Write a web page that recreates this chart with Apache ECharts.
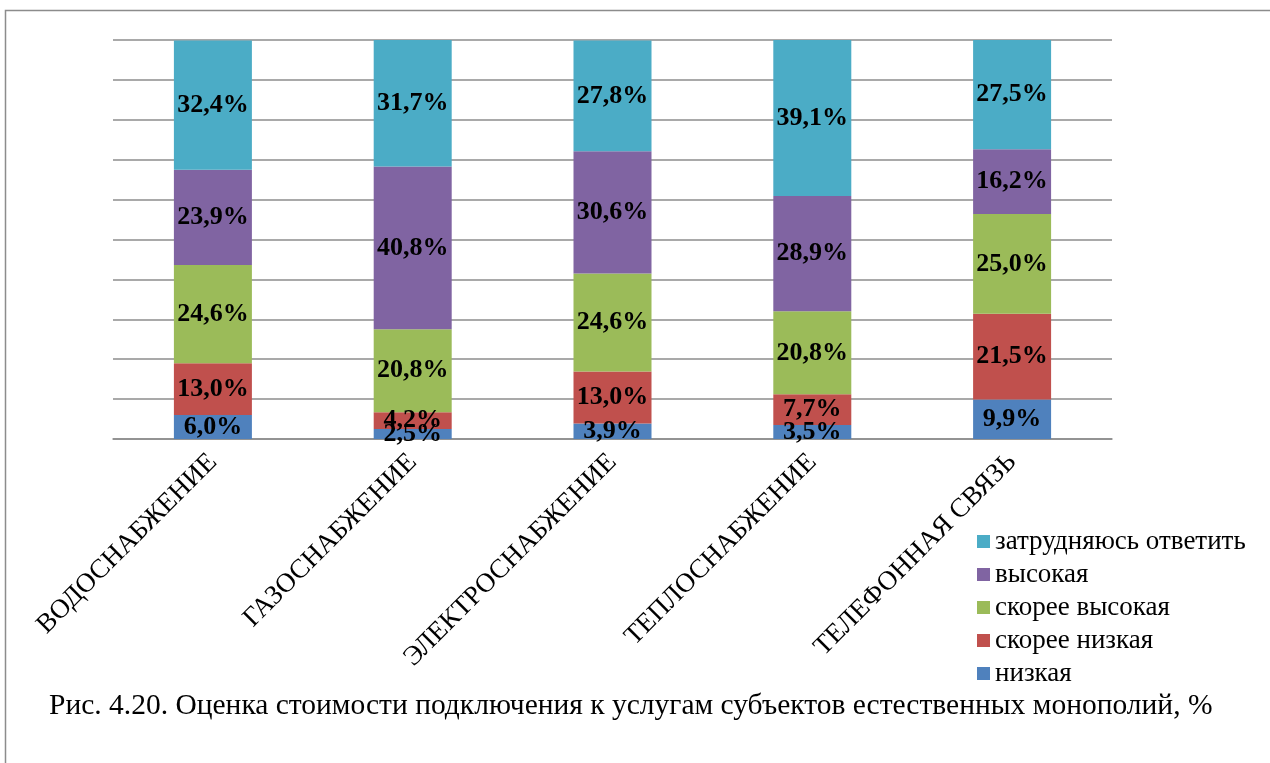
<!DOCTYPE html>
<html>
<head>
<meta charset="utf-8">
<script src="https://cdn.jsdelivr.net/npm/echarts@6/dist/echarts.min.js"></script>
<style>
html, body { margin: 0; padding: 0; background: #fff; }
#container { width: 1270px; height: 763px; }
</style>
</head>
<body>
<div id="container"></div>
<script>
var categories = ['ВОДОСНАБЖЕНИЕ', 'ГАЗОСНАБЖЕНИЕ', 'ЭЛЕКТРОСНАБЖЕНИЕ', 'ТЕПЛОСНАБЖЕНИЕ', 'ТЕЛЕФОННАЯ СВЯЗЬ'];
var nizkaya = [6.0, 2.5, 3.9, 3.5, 9.9];
var skoreeNizkaya = [13.0, 4.2, 13.0, 7.7, 21.5];
var skoreeVysokaya = [24.6, 20.8, 24.6, 20.8, 25.0];
var vysokaya = [23.9, 40.8, 30.6, 28.9, 16.2];
var zatrudnyayus = [32.4, 31.7, 27.8, 39.1, 27.5];

var seriesNames = ['низкая', 'скорее низкая', 'скорее высокая', 'высокая', 'затрудняюсь ответить'];
var seriesData = [nizkaya, skoreeNizkaya, skoreeVysokaya, vysokaya, zatrudnyayus];
var colors = ['#4F81BD', '#C0504D', '#9BBB59', '#8064A2', '#4BACC6'];

var dom = document.getElementById('container');
var myChart = echarts.init(dom);
var serif = '"Liberation Serif", "DejaVu Serif", serif';

var series = [];
for (var i = 0; i < seriesNames.length; i++) {
    series.push({
        name: seriesNames[i],
        type: 'bar',
        stack: 'total',
        barWidth: 78,
        itemStyle: { color: colors[i] },
        label: {
            show: true,
            position: 'inside',
            fontFamily: serif,
            fontSize: 26,
            fontWeight: 'bold',
            color: '#000',
            formatter: function (p) {
                return p.value.toFixed(1).replace('.', ',') + '%';
            }
        },
        data: seriesData[i]
    });
}

var option = {
    animation: false,
    color: colors,
    graphic: [{
        type: 'rect',
        shape: { x: 5.5, y: 10.5, width: 1300, height: 800 },
        style: { fill: 'none', stroke: '#8c8c8c', lineWidth: 1.5 },
        silent: true
    }],
    title: {
        text: 'Рис. 4.20. Оценка стоимости подключения к услугам субъектов естественных монополий, %',
        left: 44,
        top: 686,
        textStyle: { fontFamily: serif, fontSize: 29.5, fontWeight: 'normal', color: '#000' }
    },
    legend: {
        orient: 'vertical',
        left: 972,
        top: 523,
        itemWidth: 13,
        itemHeight: 13,
        itemGap: 6,
        icon: 'rect',
        data: ['затрудняюсь ответить', 'высокая', 'скорее высокая', 'скорее низкая', 'низкая'],
        textStyle: { fontFamily: serif, fontSize: 27, color: '#000' }
    },
    grid: { left: 113, right: 158, top: 40, bottom: 324 },
    xAxis: {
        type: 'category',
        data: categories,
        axisLine: { lineStyle: { color: '#8c8c8c', width: 1.5 } },
        axisTick: { length: 8, lineStyle: { color: '#8c8c8c', width: 1.5 } },
        axisLabel: {
            rotate: 45,
            margin: 19,
            fontFamily: serif,
            fontSize: 27,
            color: '#000'
        }
    },
    yAxis: {
        type: 'value',
        min: 0,
        max: 100,
        interval: 10,
        axisLabel: { show: false },
        axisLine: { show: false },
        axisTick: { show: false },
        splitLine: { lineStyle: { color: '#8c8c8c', width: 1.5 } }
    },
    series: series
};

myChart.setOption(option, true);
</script>
</body>
</html>
